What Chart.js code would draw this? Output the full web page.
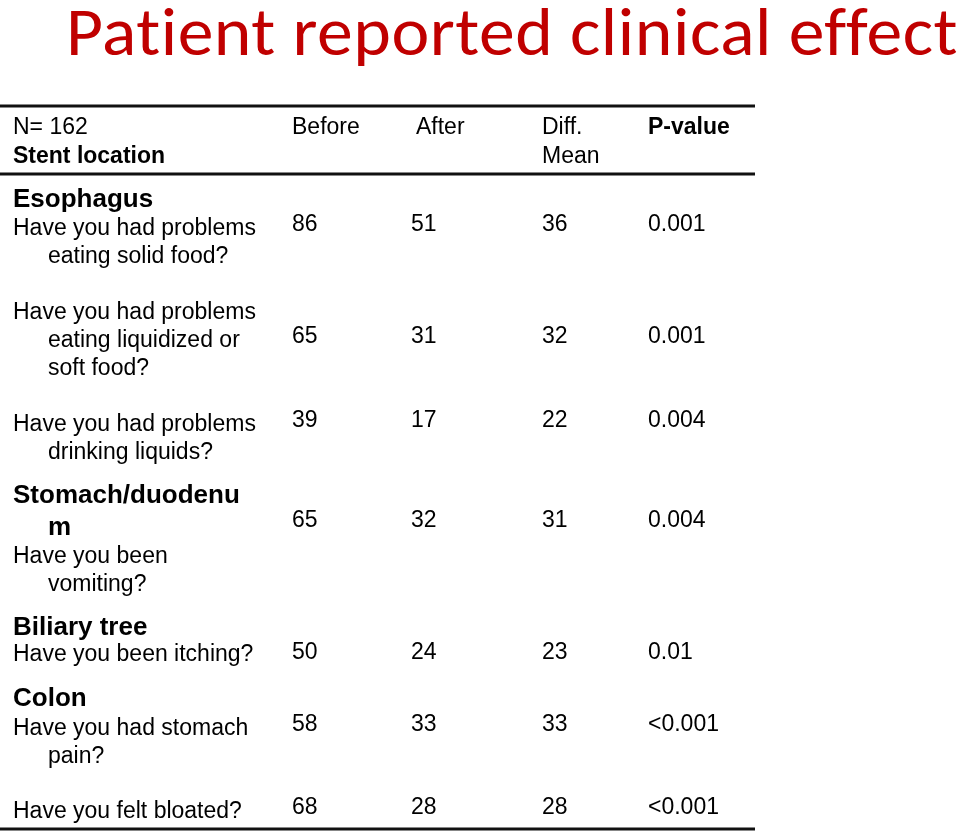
<!DOCTYPE html>
<html>
<head>
<meta charset="utf-8">
<script src="https://cdn.jsdelivr.net/npm/chart.js@4"></script>
<style>
  body { margin: 0; background: #fff; }
  #wrap { width: 960px; height: 832px; }
</style>
</head>
<body>
<div id="wrap"><canvas id="myChart"></canvas></div>
<script>
// table data
const title = "Patient reported clinical effect";
const sampleLabel = "N= 162";
const firstColHeader = "Stent location";
const columns = [["Before"], ["After"], ["Diff.", "Mean"], ["P-value"]];
const locations = [["Esophagus"], [], [], ["Stomach/duodenu", "m"], ["Biliary tree"], ["Colon"], []];
const questions = [
    ["Have you had problems", "eating solid food?"],
    ["Have you had problems", "eating liquidized or", "soft food?"],
    ["Have you had problems", "drinking liquids?"],
    ["Have you been", "vomiting?"],
    ["Have you been itching?"],
    ["Have you had stomach", "pain?"],
    ["Have you felt bloated?"],
];
const before = [86, 65, 39, 65, 50, 58, 68];
const after = [51, 31, 17, 32, 24, 33, 28];
const diffMean = [36, 32, 22, 31, 23, 33, 28];
const pValues = ["0.001", "0.001", "0.004", "0.004", "0.01", "<0.001", "<0.001"];

// layout (pixels on the 960x832 scales)
const colX = [292, 411, 542, 648];
const headerY = [134, 163];
const rowY = [
    { head: 207, q: 235, num: 231 },
    { q: 319, num: 343 },
    { q: 431, num: 427 },
    { head: 503, q: 563, num: 527 },
    { head: 635, q: 661, num: 659 },
    { head: 706, q: 735, num: 731 },
    { q: 818, num: 814 },
];
const ruleY = [106, 174, 829];

const REG = "23px 'Liberation Sans', Arial, sans-serif";
const BOLD = "bold 23px 'Liberation Sans', Arial, sans-serif";
const HEAD = "bold 26px 'Liberation Sans', Arial, sans-serif";

const valueColumns = [before, after, diffMean, pValues];

const datasets = valueColumns.map(function (vals, c) {
    return {
        label: columns[c].join(" "),
        data: vals.map(function (v, i) {
            return { x: colX[c], y: rowY[i].num, text: String(v) };
        }),
        pointRadius: 0,
        pointHoverRadius: 0,
    };
});

const tablePlugin = {
    id: "tableText",
    afterDatasetsDraw: function (chart) {
        const ctx = chart.ctx;
        const sx = chart.scales.x, sy = chart.scales.y;
        const px = function (v) { return sx.getPixelForValue(v); };
        const py = function (v) { return sy.getPixelForValue(v); };
        ctx.save();
        ctx.textBaseline = "alphabetic";
        ctx.textAlign = "left";

        // title (letter spacing keeps the "ti"/"ff" ligatures off)
        ctx.fillStyle = "#C00000";
        ctx.font = "68px Carlito, Calibri, Lato, sans-serif";
        ctx.letterSpacing = "0.5px";
        const w = ctx.measureText(title).width;
        ctx.save();
        ctx.translate(px(66), py(55));
        ctx.scale(892 / w, 1);
        ctx.fillText(title, 0, 0);
        ctx.restore();
        ctx.letterSpacing = "0px";

        // rules
        ctx.strokeStyle = "#111";
        ctx.lineWidth = 3;
        ruleY.forEach(function (y) {
            ctx.beginPath();
            ctx.moveTo(px(0), py(y));
            ctx.lineTo(px(755), py(y));
            ctx.stroke();
        });

        ctx.fillStyle = "#000";
        // header
        ctx.font = REG;
        ctx.fillText(sampleLabel, px(13), py(headerY[0]));
        ctx.font = BOLD;
        ctx.fillText(firstColHeader, px(13), py(headerY[1]));
        columns.forEach(function (lines, c) {
            ctx.font = c === 3 ? BOLD : REG;
            const x = c === 1 ? 416 : colX[c];
            lines.forEach(function (t, k) {
                ctx.fillText(t, px(x), py(headerY[k]));
            });
        });

        // row labels
        rowY.forEach(function (r, i) {
            ctx.font = HEAD;
            locations[i].forEach(function (t, k) {
                ctx.fillText(t, px(k === 0 ? 13 : 48), py(r.head + k * 32));
            });
            ctx.font = REG;
            questions[i].forEach(function (t, k) {
                ctx.fillText(t, px(k === 0 ? 13 : 48), py(r.q + k * 28));
            });
        });

        // values
        ctx.font = REG;
        chart.data.datasets.forEach(function (ds, d) {
            const meta = chart.getDatasetMeta(d);
            meta.data.forEach(function (pt, i) {
                ctx.fillText(ds.data[i].text, pt.x, pt.y);
            });
        });
        ctx.restore();
    },
};

var ctx = document.getElementById("myChart").getContext("2d");
var myChart = new Chart(ctx, {
    type: "scatter",
    data: { datasets: datasets },
    options: {
        responsive: true,
        maintainAspectRatio: false,
        animation: false,
        layout: { padding: 0 },
        plugins: {
            legend: { display: false },
            tooltip: { enabled: false },
        },
        scales: {
            x: { type: "linear", min: 0, max: 960, display: false },
            y: { type: "linear", min: 0, max: 832, reverse: true, display: false },
        },
    },
    plugins: [tablePlugin],
});
</script>
</body>
</html>
